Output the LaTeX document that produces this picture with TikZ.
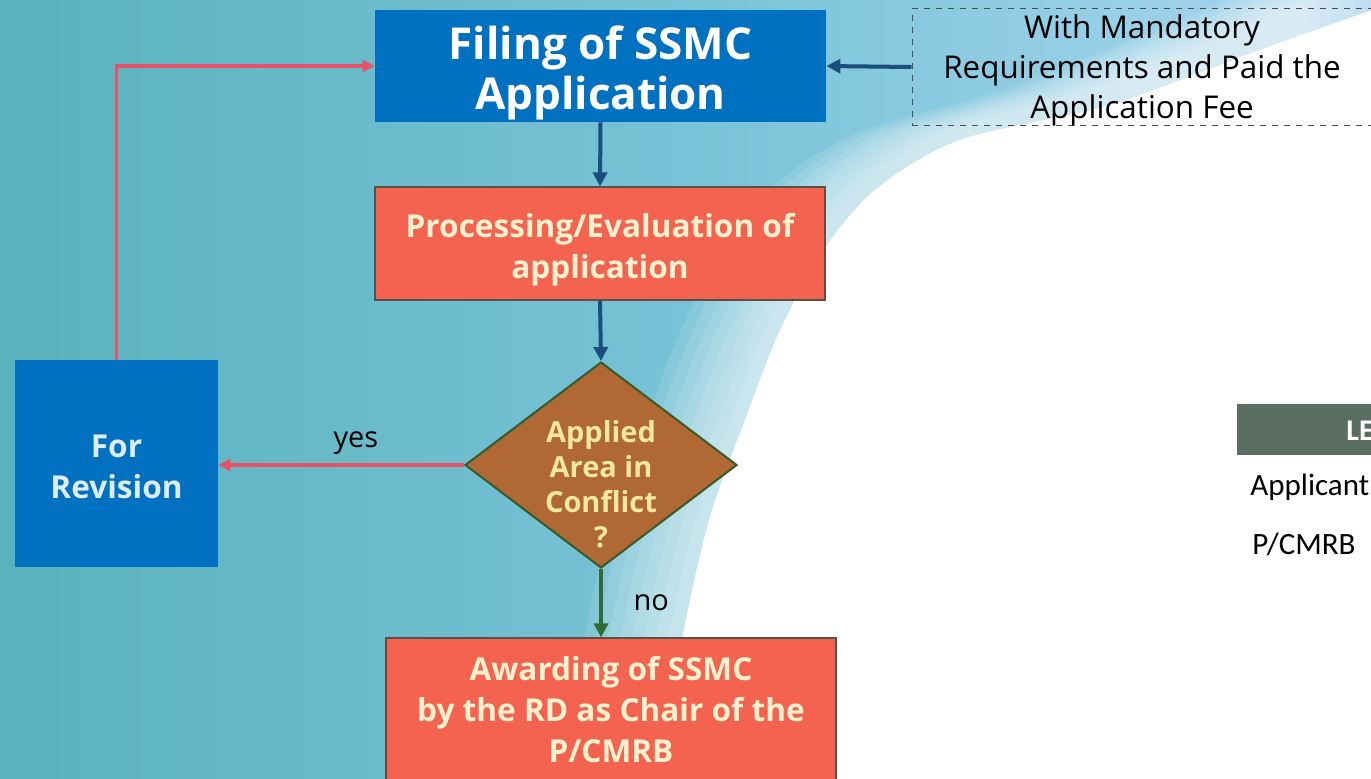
\documentclass[tikz,border=0pt]{standalone}
\usepackage{fontspec}
\setmainfont{Open Sans}
\newfontfamily\legendfont{Carlito}
\usetikzlibrary{arrows.meta,shapes.geometric}

\definecolor{bgteal}{RGB}{90,178,188}
\definecolor{bgmid}{RGB}{120,195,215}
\definecolor{bgsky}{RGB}{170,215,240}
\definecolor{boxblue}{RGB}{0,112,192}
\definecolor{salmon}{RGB}{244,98,80}
\definecolor{salmonline}{RGB}{90,80,70}
\definecolor{paletext}{RGB}{255,241,205}
\definecolor{brownfill}{RGB}{176,104,52}
\definecolor{brownline}{RGB}{55,90,40}
\definecolor{browntext}{RGB}{245,230,160}
\definecolor{arrowblue}{RGB}{25,78,125}
\definecolor{arrowpink}{RGB}{232,82,104}
\definecolor{arrowgreen}{RGB}{48,108,50}
\definecolor{legendbar}{RGB}{90,110,100}
\definecolor{revtext}{RGB}{222,236,246}

% pushes the first line of a box down
\newcommand{\boxstrut}[1]{\rule{0pt}{#1}}

\tikzset{
  bluebox/.style={fill=boxblue, align=center, inner sep=0pt},
  redbox/.style={fill=salmon, draw=salmonline, line width=0.6pt, align=center,
    inner sep=0pt, text=paletext, font=\bfseries\fontsize{15.8}{20.5}\selectfont},
  decision/.style={diamond, fill=brownfill, draw=brownline, line width=1pt,
    align=center, inner sep=-10pt, aspect=1.32, text=browntext,
    font=\bfseries\fontsize{14.5}{17.5}\selectfont},
  notebox/.style={draw=black!70, dashed, line width=0.5pt, align=center,
    inner sep=0pt, font=\fontsize{15.7}{20}\selectfont},
  darr/.style={draw=arrowblue, line width=2pt, -{Triangle[length=7pt,width=7pt]}},
  parr/.style={draw=arrowpink, line width=1.8pt, -{Triangle[length=6pt,width=6pt]}},
  garr/.style={draw=arrowgreen, line width=2pt, -{Triangle[length=7pt,width=7pt]}},
  edgetext/.style={font=\fontsize{14.5}{16}\selectfont},
  legendtext/.style={anchor=west, inner sep=0pt, font=\legendfont\fontsize{15.5}{18}\selectfont}
}

\begin{document}
\begin{tikzpicture}[x=0.5pt,y=-0.5pt]
  \useasboundingbox (0,0) rectangle (1371,778);
  \clip (0,0) rectangle (1371,778);
  % background
  \shade[left color=bgteal, right color=bgsky, middle color=bgmid] (0,0) rectangle (1371,778);
  \foreach \d in {96,84,72,60,48,36,24,12}
    \fill[white, opacity=0.11, xshift=-\d*0.5pt] plot[smooth] coordinates {(1400,-30)
      (1250,30) (1100,90) (955,132) (870,185) (815,255) (775,335) (742,420)
      (710,510) (688,600) (673,690) (678,800)} -- (1450,800) -- cycle;
  \fill[white] plot[smooth] coordinates {(1400,0) (1260,50) (1110,105) (960,140)
    (875,190) (820,255) (778,335) (745,420) (712,510) (690,600) (675,690) (680,800)}
    -- (1450,800) -- cycle;

  % steps
  \node[bluebox, minimum width=225.5pt, minimum height=56pt, text=white,
    font=\bfseries\fontsize{22}{25}\selectfont] (filing) at (600.5,66)
    {\boxstrut{23.5pt}Filing of SSMC\\Application};
  \node[redbox, minimum width=225pt, minimum height=56.5pt] (proc) at (600,243.5)
    {\boxstrut{18pt}Processing/Evaluation of\\application};
  \node[decision, minimum width=136pt, minimum height=103pt] (conflict) at (601,465)
    {\boxstrut{30pt}Applied\\Area in\\Conflict\\?};
  \node[bluebox, minimum width=101.5pt, minimum height=103.5pt, text=revtext,
    font=\bfseries\fontsize{15.8}{20.5}\selectfont] (revision) at (116.5,463.5)
    {\boxstrut{15pt}For\\Revision};
  \node[redbox, minimum width=225pt, minimum height=72pt] (award) at (611,710)
    {Awarding of SSMC\\by the RD as Chair of the\\P/CMRB};
  \node[notebox, minimum width=230pt, minimum height=55pt] (require) at (1142,67)
    {\boxstrut{15pt}With Mandatory\\Requirements and Paid the\\Application Fee};

  % legend
  \node[fill=legendbar, anchor=west, minimum width=67pt, minimum height=25.5pt,
    inner sep=0pt] (legend) at (1237,429.5) {};
  \node[anchor=west, inner sep=0pt, text=white,
    font=\legendfont\bfseries\fontsize{15}{17}\selectfont] (legendtitle)
    at (1346,431) {LE};
  \node[legendtext] (applicant) at (1250,487) {Applicant};
  \node[legendtext] (pcmrb) at (1252,544) {P/CMRB};

  % connectors
  \draw[darr] (require.west) -- (filing.east);
  \draw[darr] (filing.south) -- (proc.north);
  \draw[darr] (proc.south) -- (conflict.north);
  \draw[parr] (conflict.west) -- (conflict.west -| revision.east)
    node[pos=0.44, above=1pt, edgetext] (yes) {yes};
  \draw[garr] (conflict.south) -- (conflict.south |- award.north)
    node[midway, right=12pt, edgetext] (no) {no};
  \draw[parr] (revision.north) |- (filing.west);
\end{tikzpicture}
\end{document}
